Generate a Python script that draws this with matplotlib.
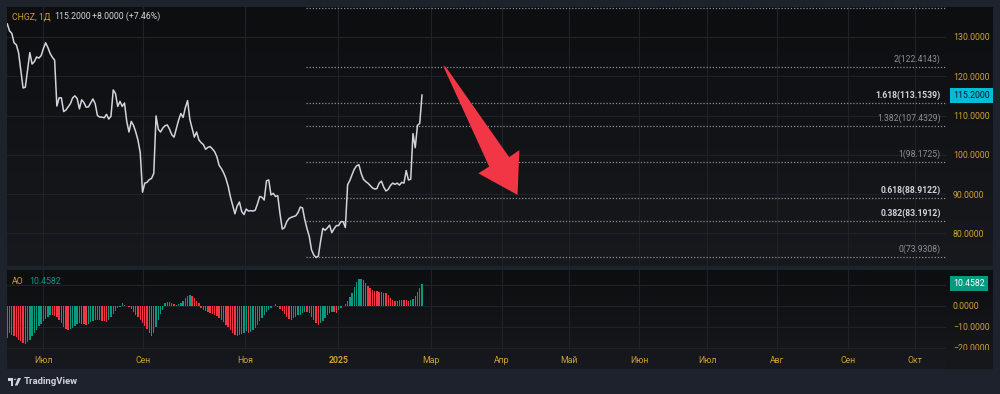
import numpy as np
import matplotlib.pyplot as plt
from matplotlib.colors import LinearSegmentedColormap
from matplotlib.patches import Polygon, Circle

plt.rcParams['font.family'] = ['Roboto', 'DejaVu Sans']

# daily close, CHGZ
close = [
    133.3, 131.5, 130.9, 128.5, 128.0, 126.0, 121.5, 117.0, 117.2, 121.5,
    126.0, 123.1, 123.7, 124.9, 124.6, 125.2, 127.0, 128.5, 127.3, 125.8,
    124.8, 124.1, 112.4, 114.5, 114.5, 111.0, 111.4, 112.2, 113.0, 114.5,
    115.0, 114.3, 111.7, 114.0, 113.3, 112.1, 112.2, 113.2, 114.2, 113.0,
    110.0, 109.6, 109.6, 109.4, 110.3, 109.1, 109.8, 116.5, 115.6, 112.3,
    113.6, 112.3, 113.2, 108.5, 105.8, 108.5, 107.5, 105.8, 103.7, 100.5,
    90.5, 92.8, 93.0, 93.7, 94.0, 95.3, 109.9, 106.5, 105.8, 106.8,
    107.4, 107.6, 106.5, 105.1, 104.5, 106.6, 108.8, 110.5, 109.5, 112.0,
    113.8, 109.0, 106.8, 104.5, 105.8, 103.8, 103.1, 102.6, 101.4, 101.9,
    102.1, 101.5, 100.8, 99.5, 97.3, 96.5, 95.4, 94.0, 92.0, 89.3,
    87.2, 85.0, 87.0, 88.0, 85.6, 84.8, 86.2, 85.7, 85.8, 85.7,
    85.9, 87.5, 89.4, 89.2, 88.5, 93.4, 93.6, 89.8, 90.2, 89.4,
    89.6, 85.0, 81.1, 81.5, 83.0, 83.8, 84.1, 84.3, 84.5, 85.3,
    86.7, 86.5, 83.5, 81.2, 79.2, 75.8, 74.5, 73.9, 74.2, 78.0,
    81.3, 80.8, 81.4, 82.1, 80.2, 81.2, 82.0, 82.0, 83.0, 83.0,
    81.5, 92.4, 93.5, 95.0, 96.4, 97.2, 97.5, 95.3, 93.8, 93.2,
    92.8, 92.2, 91.6, 91.3, 91.4, 92.8, 93.3, 91.8, 90.8, 91.2,
    92.2, 92.8, 92.5, 92.8, 92.3, 93.0, 92.8, 96.0, 93.6, 93.8,
    105.4, 101.8, 107.5, 108.0, 115.2]

# Awesome Oscillator
ao = [
    -15.2, -13.0, -13.8, -14.3, -15.1, -16.2, -17.0, -17.8, -18.1, -17.5,
    -16.4, -14.6, -13.0, -11.4, -9.8, -8.6, -7.5, -6.3, -5.2, -4.4,
    -4.5, -4.8, -5.6, -7.0, -8.4, -10.0, -11.1, -11.5, -11.0, -10.4,
    -9.6, -8.9, -8.4, -8.6, -8.9, -9.0, -8.5, -7.8, -7.2, -6.8,
    -6.6, -6.9, -7.2, -7.5, -7.7, -6.6, -5.2, -3.8, -2.4, -1.3,
    -0.4, 1.5, 0.4, -0.3, -0.8, -1.8, -3.0, -4.2, -5.5, -6.8,
    -8.2, -9.6, -11.2, -12.8, -14.2, -13.0, -10.0, -7.0, -4.0, -2.2,
    1.2, 1.7, 1.8, 1.2, 0.9, 0.5, 1.0, 1.5, 2.4, 3.5,
    4.6, 5.2, 4.6, 3.5, 2.0, 1.2, -1.1, -1.9, -2.6, -3.2,
    -3.4, -3.8, -4.3, -5.0, -5.8, -6.7, -7.8, -9.0, -10.2, -11.5,
    -12.8, -14.0, -14.6, -13.8, -13.6, -13.0, -12.2, -12.8, -12.4, -11.6,
    -10.5, -9.0, -7.5, -6.0, -4.6, -3.2, -2.0, -1.0, -0.2, 0.6,
    -0.5, -1.5, -2.5, -4.0, -5.2, -6.3, -6.8, -6.0, -5.4, -4.5,
    -4.2, -3.7, -2.8, -3.0, -3.5, -5.5, -7.0, -8.3, -9.0, -8.2,
    -7.2, -6.0, -4.5, -3.6, -2.8, -3.2, -3.5, -2.0, -1.0, -0.2,
    0.6, 2.0, 4.0, 6.0, 9.0, 11.5, 12.7, 12.9, 12.4, 10.8,
    9.5, 8.4, 7.3, 7.0, 6.8, 6.6, 6.4, 6.2, 6.0, 5.2,
    3.8, 2.9, 2.4, 2.3, 2.6, 2.9, 2.7, 2.6, 2.3, 2.8,
    3.3, 4.8, 6.4, 8.2, 10.4582]

month_labels = ['Июл', 'Сен', 'Ноя', '2025', 'Мар', 'Апр', 'Май', 'Июн',
                'Июл', 'Авг', 'Сен', 'Окт']
month_pos = [16.0, 60.3, 105.5, 146.9, 187.8, 219.5, 249.2, 280.3,
             310.6, 341.6, 372.9, 402.7]
price_ticks = [80, 90, 100, 110, 120, 130]
ao_ticks = [10, 0, -10, -20]

fib_levels = [0, 0.382, 0.618, 1, 1.382, 1.618, 2, 2.618]
fib_prices = [73.9308, 83.1912, 88.9122, 98.1725, 107.4329, 113.1539,
              122.4143, 137.3956]
fib_bold = [False, True, True, False, False, True, False, False]

ticker = 'CHGZ, 1Д'
last_price = 115.2
change = 8.0
change_pct = 7.46

ORANGE = '#cf9f36'
TEXT = '#d1d4dc'
GREY = '#8c8f96'
GREEN = '#089981'
RED = '#f23645'

W, H = 1000, 394


def box(x0, y0, x1, y1):
    # pixel box (top-left origin) -> figure fraction rect
    return [x0 / W, 1 - y1 / H, (x1 - x0) / W, (y1 - y0) / H]


def px(x, y):
    return (x / W, 1 - y / H)


fig = plt.figure(figsize=(10, 3.94), dpi=100)
fig.patch.set_facecolor('#1e222d')

# pane backgrounds (dark gradient)
bgmap = LinearSegmentedColormap.from_list('bg', ['#0d0e10', '#17191e'])
grad = np.linspace(0, 1, 256).reshape(-1, 1)
for rect in [box(7, 7, 993, 266), box(7, 270, 993, 369)]:
    b = fig.add_axes(rect)
    b.imshow(grad, cmap=bgmap, aspect='auto')
    b.axis('off')

ax = fig.add_axes(box(7, 7, 946, 266))
ax2 = fig.add_axes(box(7, 270, 946, 350))
for a in (ax, ax2):
    a.set_facecolor('none')
    for s in a.spines.values():
        s.set_visible(False)
    a.grid(True, color='#1f2228', lw=0.8)
    a.set_axisbelow(True)

idx = np.arange(len(close))
xlim = (-0.13, 416.5)
ylim = (71.72, 137.6)

# price pane
ax.plot(idx, close, color=TEXT, lw=1.1, zorder=3)
ax.set_xlim(xlim)
ax.set_ylim(ylim)
ax.set_xticks(month_pos)
ax.tick_params(axis='x', length=0, labelbottom=False)
ax.yaxis.tick_right()
ax.set_yticks(price_ticks, [f'{v:.4f}' for v in price_ticks])
ax.tick_params(axis='y', length=0, pad=5, labelsize=6.3, labelcolor=ORANGE)

# fibonacci levels
fib_start = 132.5
ax.hlines(fib_prices, fib_start, xlim[1], colors=GREY,
          linestyles=(0, (1, 1.5)), lw=0.9, zorder=2)
for lvl, p, bold in zip(fib_levels, fib_prices, fib_bold):
    if p > ylim[1] - 2:
        continue  # label sits above the pane, not visible
    ax.annotate(f'{lvl:g}({p:.4f})', xy=(414.2, p), xytext=(0, 2.2),
                textcoords='offset points', ha='right', va='bottom',
                fontsize=6.2, color=TEXT if bold else GREY,
                fontweight='bold' if bold else 'normal')

# red arrow drawing
arrow_xy = [(193.4, 122.6), (194.5, 122.4), (222.7, 99.4), (227.2, 101.2),
            (226.4, 89.8), (209.0, 95.3), (213.8, 97.0)]
ax.add_patch(Polygon(arrow_xy, closed=True, fc=RED, ec='none', zorder=5))

# last price tag
ax.annotate(f'{last_price:.4f}', xy=(1, last_price),
            xycoords=('axes fraction', 'data'), xytext=(5, 0),
            textcoords='offset points', ha='left', va='center',
            fontsize=6.3, color='#131722', annotation_clip=False,
            bbox=dict(boxstyle='square,pad=0.35', fc='#00bcd4', ec='none'))

# AO pane
ao_arr = np.array(ao)
rising = np.diff(ao_arr, prepend=-np.inf) > 0
ax2.bar(idx, ao_arr, width=0.6, color=np.where(rising, GREEN, RED), zorder=3)
ax2.set_xlim(xlim)
ax2.set_ylim(-21.1, 17.0)
ax2.yaxis.tick_right()
ax2.set_yticks(ao_ticks, [f'{v:.4f}'.replace('-', '\u2212') for v in ao_ticks])
ax2.tick_params(axis='y', length=0, pad=5, labelsize=6.3, labelcolor=ORANGE)
ax2.set_xticks(month_pos, month_labels)
ax2.tick_params(axis='x', length=0, pad=4, labelsize=6.3, labelcolor=ORANGE)
ax2.get_xticklabels()[3].set_fontweight('bold')

ax2.annotate(f'{ao[-1]:.4f}', xy=(1, ao[-1]),
             xycoords=('axes fraction', 'data'), xytext=(5, 0),
             textcoords='offset points', ha='left', va='center',
             fontsize=6.3, color='white', annotation_clip=False,
             bbox=dict(boxstyle='square,pad=0.35', fc=GREEN, ec='none'))

# cover lower half of the clipped bottom scale label
cov = fig.add_axes(box(946, 350, 993, 369))
cov.set_facecolor('#15171b')
cov.set_xticks([])
cov.set_yticks([])
for s in cov.spines.values():
    s.set_visible(False)

# header legends
fig.text(*px(12.5, 16.7), ticker, color=ORANGE, fontsize=6.3, va='center')
fig.text(*px(54, 16.7), f'{last_price:.4f}', color=TEXT, fontsize=6.3, va='center')
fig.text(*px(92.3, 16.7), f'+{change:.4f} (+{change_pct:.2f}%)', color=TEXT,
         fontsize=6.3, va='center')
fig.text(*px(12, 281), 'AO', color=ORANGE, fontsize=6.3, va='center')
fig.text(*px(29, 281), f'{ao[-1]:.4f}', color=GREEN, fontsize=6.3, va='center')

# TradingView logo
fig.add_artist(Polygon([px(7.5, 378), px(13, 378), px(13, 385.5),
                        px(10.5, 385.5), px(10.5, 380.5), px(7.5, 380.5)],
                       closed=True, fc=TEXT, ec='none', transform=fig.transFigure))
fig.add_artist(Circle(px(15.0, 379.3), 1.3 / W, fc=TEXT, ec='none',
                      transform=fig.transFigure))
fig.add_artist(Polygon([px(18, 378), px(21, 378), px(17.5, 385.5), px(14.8, 385.5)],
                       closed=True, fc=TEXT, ec='none', transform=fig.transFigure))
fig.text(*px(23.5, 381.5), 'TradingView', color=TEXT, fontsize=6.8,
         fontweight='bold', va='center')

fig.savefig('out.png', dpi=100, facecolor=fig.get_facecolor())
